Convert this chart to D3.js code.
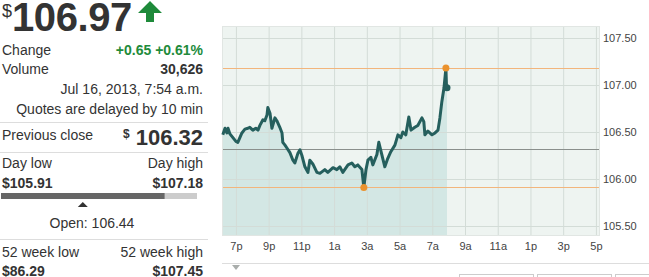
<!DOCTYPE html>
<html>
<head>
<meta charset="utf-8">
<script src="https://cdn.jsdelivr.net/npm/d3@7"></script>
<style>
body { margin: 0; background: #fff; }
svg { display: block; font-family: "Liberation Sans", Arial, sans-serif; }
</style>
</head>
<body>
<div id="chart"></div>
<script>
// quote summary
const lastPrice = 106.97;
const change = "+0.65 +0.61%";
const volume = "30,626";
const stamp = "Jul 16, 2013, 7:54 a.m.";
const prevClose = 106.32;
const dayLow = 105.91;
const dayHigh = 107.18;
const openPrice = 106.44;
const weekLow = 86.29;
const weekHigh = 107.45;

// intraday series (times from 18:00 belong to Jul 15, the rest to Jul 16)
const times = ["18:12","18:20","18:27","18:31","18:38","18:49","19:00","19:07","19:22","19:33",
  "19:44","19:51","20:02","20:13","20:21","20:28","20:39","20:46","20:54","20:57",
  "21:05","21:12","21:23","21:30","21:41","21:49","21:52","22:00","22:07","22:18",
  "22:29","22:36","22:47","22:55","23:02","23:13","23:24","23:31","23:42","23:57",
  "00:08","00:26","00:37","00:56","01:10","01:21","01:32","01:51","02:05","02:16",
  "02:27","02:42","02:46","02:49","02:57","03:04","03:15","03:22","03:37","03:44",
  "03:55","04:06","04:17","04:28","04:43","04:54","05:05","05:12","05:23","05:34",
  "05:42","05:56","06:07","06:22","06:29","06:33","06:44","06:59","07:10","07:21",
  "07:28","07:35","07:43","07:50","07:52","07:54"];
const prices = [106.47,106.54,106.49,106.54,106.48,106.44,106.40,106.39,106.49,106.53,
  106.54,106.55,106.52,106.54,106.52,106.57,106.63,106.62,106.68,106.76,
  106.70,106.54,106.65,106.62,106.55,106.49,106.39,106.36,106.33,106.28,
  106.20,106.17,106.27,106.31,106.25,106.13,106.07,106.20,106.16,106.07,
  106.06,106.10,106.07,106.12,106.10,106.13,106.07,106.15,106.17,106.13,
  106.15,106.10,105.99,105.91,106.10,106.20,106.23,106.15,106.26,106.39,
  106.26,106.13,106.22,106.29,106.36,106.47,106.44,106.50,106.47,106.66,
  106.52,106.55,106.57,106.65,106.61,106.47,106.51,106.47,106.49,106.52,
  106.65,106.82,106.97,107.18,107.00,106.97];

const yTicks = [105.5, 106.0, 106.5, 107.0, 107.5];

const W = 649, H = 277;
const svg = d3.select("#chart").append("svg")
    .attr("width", W)
    .attr("height", H);

const parseT = s => {
    const [h, m] = s.split(":").map(Number);
    return new Date(2013, 6, h >= 12 ? 15 : 16, h, m);
};
const data = times.map((t, i) => ({ t: parseT(t), v: prices[i] }));

// ---------- chart ----------
const pLeft = 222, pRight = 600, pTop = 26, pBottom = 236;

const x = d3.scaleTime()
    .domain([new Date(2013, 6, 15, 18, 9), new Date(2013, 6, 16, 17, 15)])
    .range([pLeft, pRight]);

const y = d3.scaleLinear()
    .domain([105.5, 107.5])
    .range([226, 38]);

svg.append("rect")
    .attr("x", pLeft).attr("y", pTop)
    .attr("width", pRight - pLeft).attr("height", pBottom - pTop)
    .attr("fill", "#eef4f1");

svg.append("clipPath").attr("id", "plot")
    .append("rect")
    .attr("x", pLeft).attr("y", pTop)
    .attr("width", pRight - pLeft).attr("height", pBottom - pTop);

const area = d3.area()
    .x(d => x(d.t))
    .y0(pBottom)
    .y1(d => y(d.v));

svg.append("path")
    .datum(data)
    .attr("d", area)
    .attr("fill", "#d3e7e4")
    .attr("clip-path", "url(#plot)");

const hourTicks = x.ticks(d3.timeHour.filter(d => d.getHours() % 2 === 1));

svg.append("g").selectAll("line")
    .data(hourTicks)
    .enter().append("line")
    .attr("x1", d => x(d) + 0.5).attr("x2", d => x(d) + 0.5)
    .attr("y1", pTop).attr("y2", pBottom)
    .attr("stroke", "#d3dcd7");

svg.append("g").selectAll("line")
    .data(yTicks)
    .enter().append("line")
    .attr("x1", pLeft).attr("x2", pRight)
    .attr("y1", d => Math.round(y(d)) + 0.5).attr("y2", d => Math.round(y(d)) + 0.5)
    .attr("stroke", "#d3dcd7");

// day high / low and previous close reference lines
[dayHigh, dayLow].forEach(v => {
    svg.append("line")
        .attr("x1", pLeft).attr("x2", pRight)
        .attr("y1", Math.round(y(v)) + 0.5).attr("y2", Math.round(y(v)) + 0.5)
        .attr("stroke", "#f2b57c");
});
svg.append("line")
    .attr("x1", pLeft).attr("x2", pRight)
    .attr("y1", Math.round(y(prevClose)) + 0.5).attr("y2", Math.round(y(prevClose)) + 0.5)
    .attr("stroke", "#8a8f8c");

svg.append("rect")
    .attr("x", pLeft + 0.5).attr("y", pTop + 0.5)
    .attr("width", pRight - pLeft - 1).attr("height", pBottom - pTop - 1)
    .attr("fill", "none")
    .attr("stroke", "#e1e6e3");

const line = d3.line()
    .x(d => x(d.t))
    .y(d => y(d.v));

svg.append("path")
    .datum(data)
    .attr("d", line)
    .attr("fill", "none")
    .attr("stroke", "#255f5d")
    .attr("stroke-width", 3)
    .attr("stroke-linejoin", "round");

const hi = data.reduce((a, b) => b.v > a.v ? b : a);
const lo = data.reduce((a, b) => b.v < a.v ? b : a);
const last = data[data.length - 1];

[hi, lo].forEach(d => {
    svg.append("circle")
        .attr("cx", x(d.t)).attr("cy", y(d.v)).attr("r", 3.5)
        .attr("fill", "#ea922e");
});
svg.append("circle")
    .attr("cx", x(last.t)).attr("cy", y(last.v)).attr("r", 3.5)
    .attr("fill", "#255f5d");

const hourFmt = d => {
    const h = d.getHours();
    return (h % 12 || 12) + (h < 12 ? "a" : "p");
};

const xAxis = svg.append("g")
    .attr("transform", `translate(0,${pBottom})`)
    .call(d3.axisBottom(x).tickValues(hourTicks).tickFormat(hourFmt).tickSize(0).tickPadding(6));

const yAxis = svg.append("g")
    .attr("transform", `translate(${pRight},0)`)
    .call(d3.axisRight(y).tickValues(yTicks).tickFormat(d3.format(".2f")).tickSize(0).tickPadding(3));

[xAxis, yAxis].forEach(g => {
    g.select(".domain").remove();
    g.selectAll("text")
        .attr("font-family", "Liberation Sans, Arial, sans-serif")
        .attr("font-size", 11)
        .attr("fill", "#444");
});

// bottom strip under the chart
svg.append("line")
    .attr("x1", pLeft).attr("x2", W)
    .attr("y1", 263.5).attr("y2", 263.5)
    .attr("stroke", "#dddddd");
svg.append("path")
    .attr("d", "M232,265 L240,265 L236,270 Z")
    .attr("fill", "#a9adab");
[[459, 74], [537, 74], [615, 40]].forEach(([bx, bw]) => {
    svg.append("rect")
        .attr("x", bx + 0.5).attr("y", 274.5)
        .attr("width", bw).attr("height", 10)
        .attr("fill", "#fff")
        .attr("stroke", "#cccccc");
});

// ---------- quote panel ----------
const panel = svg.append("g").attr("fill", "#333");

function txt(px, py, s, size, opts = {}) {
    return panel.append("text")
        .attr("x", px).attr("y", py)
        .attr("font-size", size)
        .attr("font-weight", opts.bold ? "bold" : null)
        .attr("text-anchor", opts.anchor || "start")
        .attr("fill", opts.color || "#333")
        .text(s);
}

const fmt2 = d3.format(".2f");
const R = 203;

txt(2, 17, "$", 18);
txt(12, 31, fmt2(lastPrice), 40, { bold: true }).attr("letter-spacing", -0.4);
svg.append("path")
    .attr("d", "M150,1 L162,13 L154,13 L154,22 L146,22 L146,13 L138,13 Z")
    .attr("fill", "#1e8a3a");

txt(2, 55, "Change", 14);
txt(R, 55, change, 14, { bold: true, anchor: "end", color: "#228b3b" });
txt(2, 74, "Volume", 14);
txt(R, 74, volume, 14, { bold: true, anchor: "end" });
txt(R, 94, stamp, 14, { anchor: "end" });
txt(R, 114, "Quotes are delayed by 10 min", 14, { anchor: "end" });

const sep = yy => svg.append("line")
    .attr("x1", 0).attr("x2", 208)
    .attr("y1", yy + 0.5).attr("y2", yy + 0.5)
    .attr("stroke", "#dddddd");
sep(122);

txt(2, 140, "Previous close", 14);
txt(R, 145, fmt2(prevClose), 22, { bold: true, anchor: "end" });
txt(123, 138, "$", 12, { bold: true });
sep(152);

txt(2, 168, "Day low", 14);
txt(R, 168, "Day high", 14, { anchor: "end" });
txt(2, 188, "$" + fmt2(dayLow), 14, { bold: true });
txt(R, 188, "$" + fmt2(dayHigh), 14, { bold: true, anchor: "end" });

const bar = d3.scaleLinear().domain([dayLow, dayHigh]).range([1, 197]);
svg.append("rect")
    .attr("x", bar(dayLow)).attr("y", 193)
    .attr("width", bar(dayHigh) - bar(dayLow)).attr("height", 6)
    .attr("fill", "#cccccc");
svg.append("rect")
    .attr("x", bar(dayLow)).attr("y", 193)
    .attr("width", bar(lastPrice) - bar(dayLow)).attr("height", 6)
    .attr("fill", "#666666");
const ox = bar(openPrice);
svg.append("path")
    .attr("d", `M${ox - 5},207 L${ox + 5},207 L${ox},202 Z`)
    .attr("fill", "#333");

txt(92, 228, "Open: " + fmt2(openPrice), 14, { anchor: "middle" });
sep(239);

txt(2, 257, "52 week low", 14);
txt(R, 257, "52 week high", 14, { anchor: "end" });
txt(2, 276, "$" + fmt2(weekLow), 14, { bold: true });
txt(R, 276, "$" + fmt2(weekHigh), 14, { bold: true, anchor: "end" });
</script>
</body>
</html>
